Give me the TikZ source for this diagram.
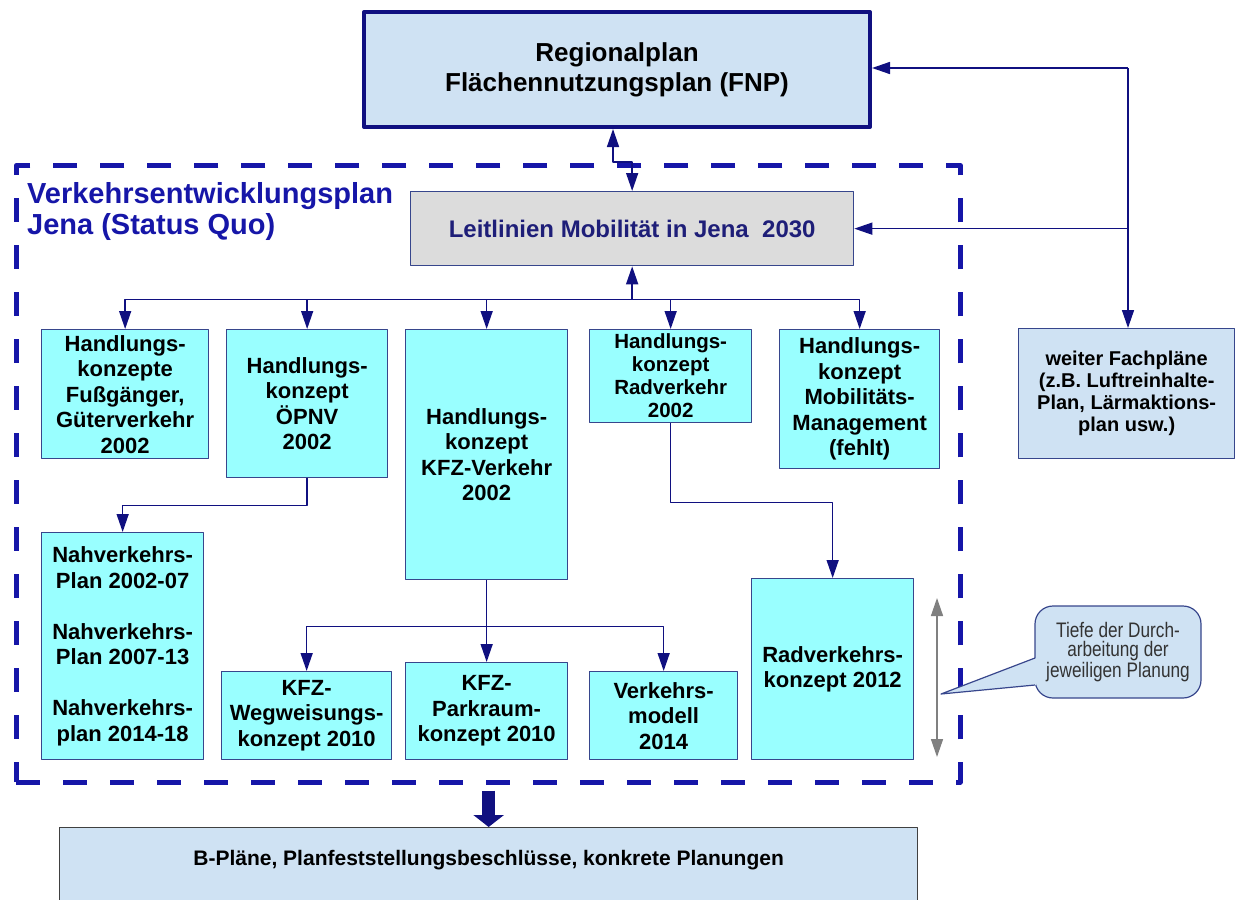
\documentclass[tikz,border=0pt]{standalone}
\usepackage{fontspec}
\setmainfont{Liberation Sans}
\newfontfamily\schmal[FakeStretch=0.82]{Liberation Sans}
\usetikzlibrary{arrows.meta}
\definecolor{navy}{RGB}{16,16,128}
\definecolor{rahmenblau}{RGB}{22,22,168}
\definecolor{kastenlinie}{RGB}{55,70,140}
\definecolor{cyanfill}{RGB}{153,255,255}
\definecolor{hellblau}{RGB}{207,226,243}
\definecolor{hellgrau}{RGB}{220,220,220}
\definecolor{lltext}{RGB}{30,30,120}
\begin{document}
\begin{tikzpicture}[x=1pt,y=-1pt,line join=round,>={Triangle[length=18pt,width=12pt]},
	konzept/.style={draw=kastenlinie,line width=1.3pt,fill=cyanfill,align=center,inner sep=0pt,anchor=north west,font=\bfseries\fontsize{22}{25.5}\selectfont},
	plan/.style={konzept,fill=hellblau},
	link/.style={draw=navy,line width=1.5pt,->},
	graupfeil/.style={draw=gray,line width=1.5pt,<->},
	pfeildick/.style={draw=navy,line width=13pt,-{Triangle[length=12pt,width=30pt]}}]
\clip (0,0) rectangle (1236,899);
\node[draw=rahmenblau,line width=4.5pt,dash pattern=on 24pt off 23pt,minimum width=944pt,minimum height=617pt,anchor=north west,inner sep=0pt] (vep) at (14,163) {};
\node[anchor=north west,inner sep=0pt,align=left,text=rahmenblau,font=\bfseries\fontsize{29}{31}\selectfont] (veptitel) at (27,182) {Verkehrsentwicklungsplan\\Jena (Status Quo)};
\node[plan,draw=navy,line width=4pt,minimum width=506pt,minimum height=115pt,font=\bfseries\fontsize{26}{30}\selectfont] (rp) at (362,10) {Regionalplan\\Flächennutzungsplan (FNP)};
\node[plan,fill=hellgrau,text=lltext,minimum width=443pt,minimum height=74pt,font=\bfseries\fontsize{24}{28}\selectfont] (ll) at (410,191) {Leitlinien Mobilität in Jena~~2030};
\node[plan,minimum width=216pt,minimum height=130pt,font=\bfseries\fontsize{20}{22}\selectfont] (fp) at (1018,328) {weiter Fachpläne\\(z.B. Luftreinhalte-\\Plan, Lärmaktions-\\plan usw.)};
\node[konzept,minimum width=167pt,minimum height=129pt] (hfg) at (41,329) {Handlungs-\\konzepte\\Fußgänger,\\Güterverkehr\\2002};
\node[konzept,minimum width=161pt,minimum height=148pt] (hoepnv) at (226,329) {Handlungs-\\konzept\\ÖPNV\\2002};
\node[konzept,minimum width=162pt,minimum height=250pt] (hkfz) at (405,329) {Handlungs-\\konzept\\KFZ-Verkehr\\2002};
\node[konzept,minimum width=162pt,minimum height=93pt,font=\bfseries\fontsize{20.5}{23}\selectfont] (hrad) at (589,329) {Handlungs-\\konzept\\Radverkehr\\2002};
\node[konzept,minimum width=160pt,minimum height=139pt] (hmm) at (779,329) {Handlungs-\\konzept\\Mobilitäts-\\Management\\(fehlt)};
\node[konzept,minimum width=162pt,minimum height=227pt] (nvp) at (41,532) {Nahverkehrs-\\Plan 2002-07\\[25.5pt]Nahverkehrs-\\Plan 2007-13\\[25.5pt]Nahverkehrs-\\plan 2014-18};
\node[konzept,minimum width=170pt,minimum height=88pt] (kfzww) at (221,671) {KFZ-\\Wegweisungs-\\konzept 2010};
\node[konzept,minimum width=162pt,minimum height=97pt] (kfzpk) at (405,662) {KFZ-\\Parkraum-\\konzept 2010};
\node[konzept,minimum width=148pt,minimum height=88pt] (vm) at (589,671) {Verkehrs-\\modell\\2014};
\node[konzept,minimum width=162pt,minimum height=181pt] (rvk) at (751,578) {Radverkehrs-\\konzept 2012};
\node[plan,draw=black!75,minimum width=858pt,minimum height=83pt,text height=16pt,text depth=24pt,font=\bfseries\fontsize{21}{24}\selectfont] (bp) at (59,827) {B-Pläne, Planfeststellungsbeschlüsse, konkrete Planungen};
\node[draw=kastenlinie,line width=1.2pt,fill=hellblau,rounded corners=18pt,minimum width=166pt,minimum height=92pt,inner sep=0pt,align=center,text=black!80,font=\schmal\fontsize{21}{19.5}\selectfont] (tiefe) at (1118,652) {Tiefe der Durch-\\arbeitung der\\jeweiligen Planung};
\coordinate (tiefespitze) at (941,694);
\fill[hellblau] ([shift={(2,6)}]tiefe.west) -- (tiefespitze) -- ([shift={(2,33)}]tiefe.west) -- cycle;
\draw[kastenlinie,line width=1.2pt] ([shift={(0.6,6)}]tiefe.west) -- (tiefespitze) -- ([shift={(0.6,33)}]tiefe.west);
\coordinate (tiefeoben) at (937,598);
\coordinate (tiefeunten) at (937,757);
\draw[graupfeil] (tiefeoben) -- (tiefeunten);
\draw[link,<->] ([xshift=-4pt]rp.south) -- ++(0,33) -| (ll.north);
\coordinate (fpknick) at (1128,68);
\draw[link] (fpknick) -- (rp.east |- fpknick);
\draw[link] (fpknick) -- (fp.north -| fpknick);
\draw[link] (fpknick |- ll.east) -- (ll.east);
\path (ll.south) ++(0,33) coordinate (llbus);
\draw[link] (llbus) -- (ll.south);
\foreach \n in {hfg,hoepnv,hkfz,hrad,hmm}
	\draw[link] (llbus) -| (\n.north);
\draw[link] (hoepnv.south) -- ++(0,27) -| (nvp.north);
\path (hkfz.south) ++(0,46) coordinate (kfzbus);
\draw[navy,line width=1.5pt] (hkfz.south) -- (kfzbus);
\foreach \n in {kfzww,kfzpk,vm}
	\draw[link] (kfzbus) -| (\n.north);
\draw[link] (hrad.south) -- ++(0,79) -| (rvk.north);
\draw[pfeildick] ([yshift=-6pt]vep.south -| bp.north) -- (bp.north);
\end{tikzpicture}
\end{document}
